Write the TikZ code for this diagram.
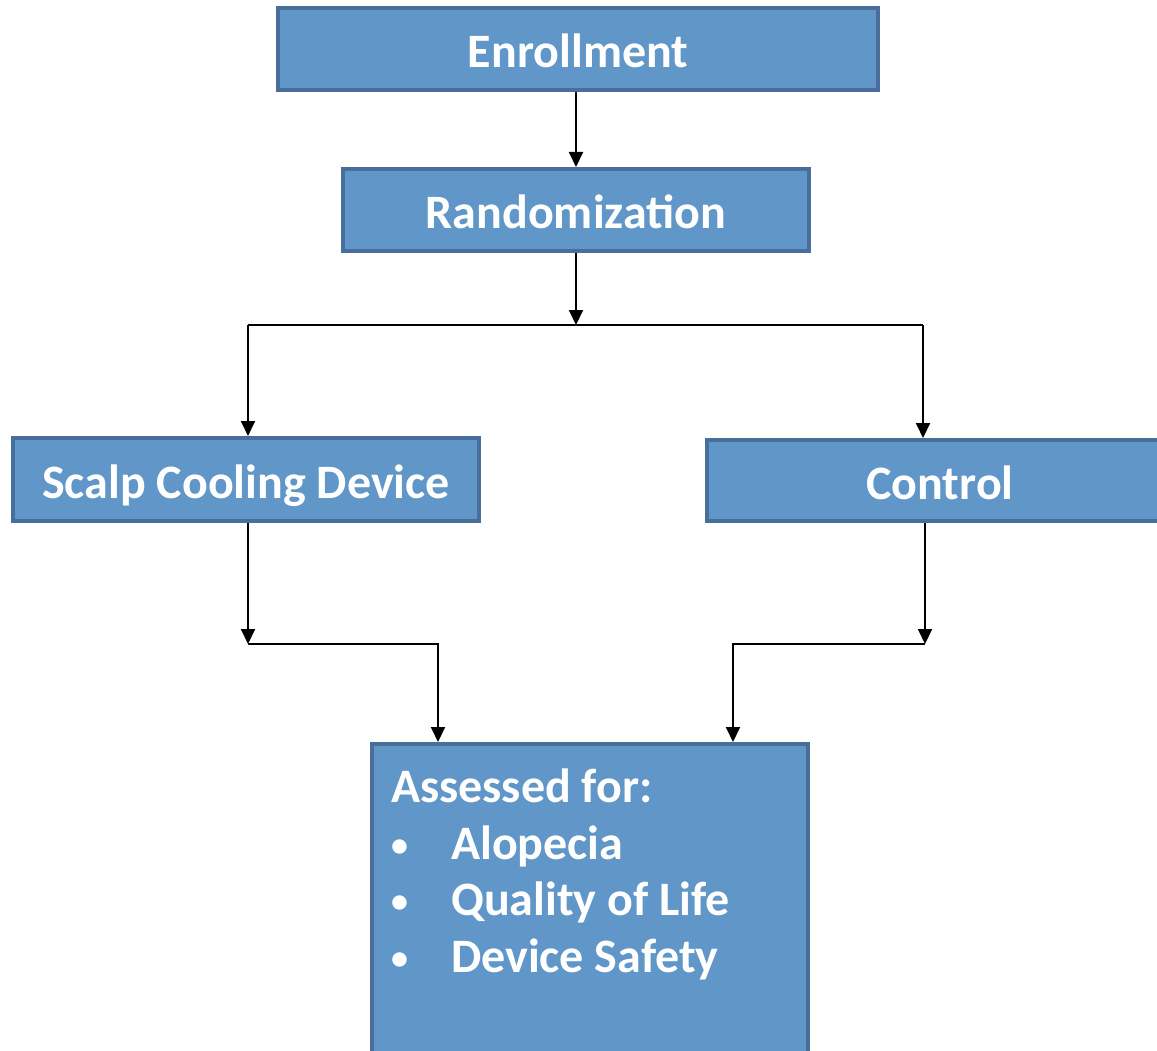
\documentclass[tikz,border=0pt]{standalone}
\usepackage{fontspec}
\setmainfont{Carlito}
\usetikzlibrary{arrows.meta,positioning}

\definecolor{boxfill}{RGB}{97,150,200}
\definecolor{boxline}{RGB}{72,110,156}

\newcommand{\itembullet}{\makebox[60pt][l]{\raisebox{3pt}{\fontsize{34}{34}\selectfont\textbullet}}}

\begin{document}
\begin{tikzpicture}[x=1pt,y=-1pt,>={Triangle[width=14pt,length=15pt]},
    stage/.style={rectangle,draw=boxline,fill=boxfill,line width=4pt,
      minimum width=466pt,minimum height=82pt,text=white,
      text height=38pt,text depth=0pt,
      font=\fontsize{48}{56}\selectfont\bfseries},
    flow/.style={line width=2pt}]
  \useasboundingbox (0,0) rectangle (1157,1051);
  \clip (0,0) rectangle (1157,1051);

  \node[stage,minimum width=600pt] (enroll) at (578,49) {Enrollment};
  \node[stage] (random) at (576,210) {Randomization};
  \node[stage,minimum height=83pt] (scalp) at (246,479.5) {Scalp Cooling Device};
  \node[stage,minimum height=81pt] (control) at (940,480.5) {Control};
  \node[stage,minimum width=436pt,minimum height=340pt,anchor=north west] (assess) at (370,742) {};
  \node[anchor=north west,align=left,text=white,inner sep=0pt,
      font=\fontsize{48}{56.5}\selectfont\bfseries] (items) at (391,769)
    {Assessed for:\\
     \itembullet Alopecia\\
     \itembullet Quality of Life\\
     \itembullet Device Safety};

  % branch points
  \coordinate (split) at (576,325);
  \coordinate (splitL) at (248,325);
  \coordinate (splitR) at (923,325);
  \coordinate (mergeL) at (248,644);
  \coordinate (mergeR) at (925,644);
  \coordinate (inL) at (438,742);
  \coordinate (inR) at (733,742);

  \draw[flow,->] (enroll.south -| split) -- (random.north -| split);
  \draw[flow,->] (random.south -| split) -- (split);
  \draw[flow] (splitL) -- (splitR);
  \draw[flow,->] (splitL) -- (splitL |- scalp.north);
  \draw[flow,->] (splitR) -- (splitR |- control.north);

  \draw[flow,->] (scalp.south -| mergeL) -- (mergeL);
  \draw[flow,->] (mergeL) -| (inL);
  \draw[flow,->] (control.south -| mergeR) -- (mergeR);
  \draw[flow,->] (mergeR) -| (inR);
\end{tikzpicture}
\end{document}
